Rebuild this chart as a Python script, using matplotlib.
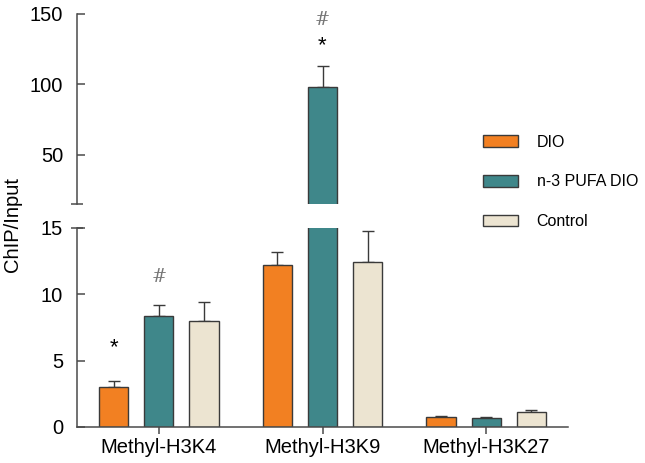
import matplotlib
matplotlib.use("Agg")
import matplotlib.pyplot as plt
from matplotlib.patches import Patch
import numpy as np

plt.rcParams['font.family'] = ['Liberation Sans', 'DejaVu Sans']

# data
groups = ['Methyl-H3K4', 'Methyl-H3K9', 'Methyl-H3K27']
series = ['DIO', 'n-3 PUFA DIO', 'Control']
dio = [3.0, 12.2, 0.73]
dio_err = [0.5, 1.0, 0.1]
pufa = [8.4, 98.3, 0.65]
pufa_err = [0.8, 15.0, 0.1]
ctrl = [8.0, 12.4, 1.1]
ctrl_err = [1.4, 2.4, 0.15]
colors = ['#F28022', '#3F878A', '#ECE4D1']

values = [dio, pufa, ctrl]
errors = [dio_err, pufa_err, ctrl_err]

edge = '#3a3a3a'
spine_c = '#4a4a4a'
brk = 15  # where the y axis is broken

fig = plt.figure(figsize=(6.45, 4.63), dpi=100)
ax_top = fig.add_axes([0.1194, 0.5594, 0.7612, 0.4104])
ax_bot = fig.add_axes([0.1194, 0.0778, 0.7612, 0.4298])

x = np.arange(len(groups))
width = 0.178
offs = [-0.276, 0, 0.276]

for ax in (ax_top, ax_bot):
    for i in range(3):
        v = np.array(values[i])
        e = np.array(errors[i])
        ax.bar(x + offs[i], v, width, color=colors[i], edgecolor=edge,
               linewidth=1.0, zorder=2)
        keep = v > brk if ax is ax_top else v <= brk
        if keep.any():
            ax.errorbar((x + offs[i])[keep], v[keep],
                        yerr=[np.zeros(keep.sum()), e[keep]],
                        fmt='none', ecolor=edge, elinewidth=1.0, capsize=4,
                        capthick=1.0, zorder=1)
    ax.set_xlim(-0.5, 2.5)
    for s in ['top', 'right']:
        ax.spines[s].set_visible(False)
    ax.spines['left'].set_color(spine_c)
    ax.spines['left'].set_linewidth(1.1)
    ax.tick_params(axis='y', direction='in', length=6, width=1.1,
                   color=spine_c, labelsize=14.5, pad=10)

ax_top.set_ylim(brk, 150)
ax_top.set_yticks([50, 100, 150])
ax_top.spines['bottom'].set_visible(False)
ax_top.set_xticks([])

ax_bot.set_ylim(0, brk)
ax_bot.set_yticks([0, 5, 10, 15])
ax_bot.spines['bottom'].set_color(spine_c)
ax_bot.spines['bottom'].set_linewidth(1.1)
ax_bot.set_xticks(x)
ax_bot.set_xticklabels(groups)
ax_bot.tick_params(axis='x', direction='out', length=5, width=1.1,
                   color=spine_c, labelsize=14.5, pad=3)

# break marks at the spine ends
ax_top.plot([0], [0], marker='_', markersize=9, markeredgewidth=1.1,
            color=spine_c, transform=ax_top.transAxes, clip_on=False)
ax_bot.plot([0], [1], marker='_', markersize=9, markeredgewidth=1.1,
            color=spine_c, transform=ax_bot.transAxes, clip_on=False)

# significance marks
ax_bot.text(x[0] + offs[0], 5.2, '*', ha='center', va='bottom', fontsize=16)
ax_bot.text(x[0] + offs[1], 10.6, '#', ha='center', va='bottom', fontsize=13,
            color='#777777', family='DejaVu Serif')
ax_top.text(x[1] + offs[1], 120, '*', ha='center', va='bottom', fontsize=16)
ax_top.text(x[1] + offs[1], 139, '#', ha='center', va='bottom', fontsize=13,
            color='#777777', family='DejaVu Serif')

fig.text(0.019, 1 - 225 / 463, 'ChIP/Input', rotation=90, ha='center',
         va='center', fontsize=14.5)

handles = [Patch(facecolor=c, edgecolor=edge, linewidth=1.0) for c in colors]
fig.legend(handles, series, loc='center left', bbox_to_anchor=(0.749, 0.607),
           frameon=False, fontsize=11.5, handlelength=2.2, handleheight=0.75,
           handletextpad=1.15, labelspacing=1.55, borderpad=0, borderaxespad=0)

fig.savefig('out.png', dpi=100)
